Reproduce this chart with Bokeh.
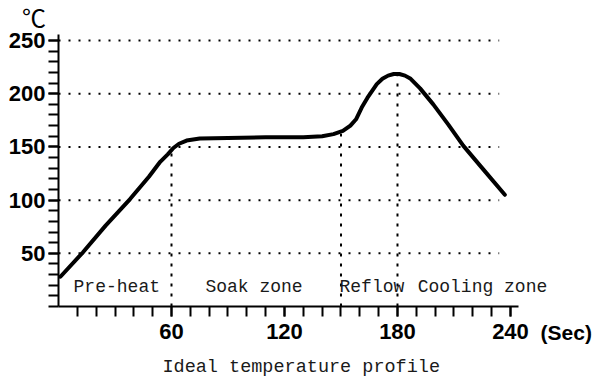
import numpy as np
from bokeh.plotting import figure
from bokeh.models import FixedTicker, Label, Range1d
from bokeh.embed import file_html
from bokeh.resources import INLINE

# ---- data ----
time_sec = [1, 13, 25, 38, 48, 54, 58, 61, 64, 68, 75, 90, 110, 130, 140, 146,
            151, 155, 158, 161, 164, 169, 172, 175, 178, 181, 184, 187, 192,
            199, 207, 215, 226, 237]
temp_c = [28, 51, 76, 101, 122, 136, 143, 149, 153, 156, 158, 158.5, 159, 159,
          160, 162, 165, 170, 176, 187, 196, 209, 214, 217, 218.5, 218.5, 217,
          214, 205, 190, 171, 151, 128, 105]

x_major = [60, 120, 180, 240]
x_minor = list(range(10, 241, 10))
y_major = [50, 100, 150, 200, 250]
y_minor = list(range(0, 251, 10))

grid_temps = [50, 100, 150, 200, 250]
grid_end_sec = 234
zone_bounds = [60, 150, 180]
zone_names = ["Pre-heat", "Soak zone", "Reflow", "Cooling zone"]
zone_start_sec = [8, 78, 149.2, 190.7]

p = figure(width=600, height=390, title=None,
           x_range=Range1d(-30.8, 287.8), y_range=Range1d(-78.9, 287.6),
           min_border=0, min_border_left=0, min_border_right=0,
           min_border_top=0, min_border_bottom=0,
           toolbar_location=None, output_backend="svg")
p.outline_line_color = None
p.grid.visible = False
p.background_fill_color = "white"
p.border_fill_color = "white"

# dotted horizontal guide lines
p.segment(x0=[0] * len(grid_temps), y0=grid_temps,
          x1=[grid_end_sec] * len(grid_temps), y1=grid_temps,
          line_color="black", line_width=2, line_dash="2 8")

# dashed vertical zone boundaries, up to the curve
tops = np.interp(zone_bounds, time_sec, temp_c) - 2
p.segment(x0=zone_bounds, y0=[0] * len(zone_bounds), x1=zone_bounds, y1=tops,
          line_color="black", line_width=2, line_dash="3 7")

# profile curve
p.line(time_sec, temp_c, line_color="black", line_width=4,
       line_join="round", line_cap="round")

for ax, major, minor, bnd in ((p.xaxis, x_major, x_minor, (0, 244)),
                              (p.yaxis, y_major, y_minor, (0, 256))):
    ax.fixed_location = 0
    ax.bounds = bnd
    ax.ticker = FixedTicker(ticks=major, minor_ticks=minor)
    ax.axis_line_width = 2
    ax.axis_line_color = "black"
    ax.major_tick_line_width = 2
    ax.minor_tick_line_width = 2
    ax.major_tick_line_color = "black"
    ax.minor_tick_line_color = "black"
    ax.major_tick_in = 0
    ax.major_tick_out = 10
    ax.minor_tick_in = 0
    ax.minor_tick_out = 10
    ax.major_label_text_font = "Liberation Sans"
    ax.major_label_text_font_style = "bold"
    ax.major_label_text_font_size = "22px"
    ax.major_label_text_color = "black"

p.xaxis.major_label_standoff = 7
p.yaxis.major_label_standoff = 3

label_font = "Liberation Mono"
for name, xs in zip(zone_names, zone_start_sec):
    p.add_layout(Label(x=xs, y=18.8, text=name, text_font=label_font,
                       text_font_size="18px", text_color="#1a1a1a",
                       text_align="left", text_baseline="middle"))

p.add_layout(Label(x=55.2, y=-57.3, text="Ideal temperature profile",
                   text_font=label_font, text_font_size="18.5px",
                   text_color="#1a1a1a", text_align="left",
                   text_baseline="middle"))

p.add_layout(Label(x=256, y=-24.4, text="(Sec)", text_font="Liberation Sans",
                   text_font_style="bold", text_font_size="21px",
                   text_color="black", text_align="left",
                   text_baseline="middle"))

p.add_layout(Label(x=-19.4, y=273, text="℃", text_font="Noto Sans CJK SC",
                   text_font_size="24px", text_color="black",
                   text_align="left", text_baseline="middle"))

open("out.html", "w").write(file_html(p, INLINE))
